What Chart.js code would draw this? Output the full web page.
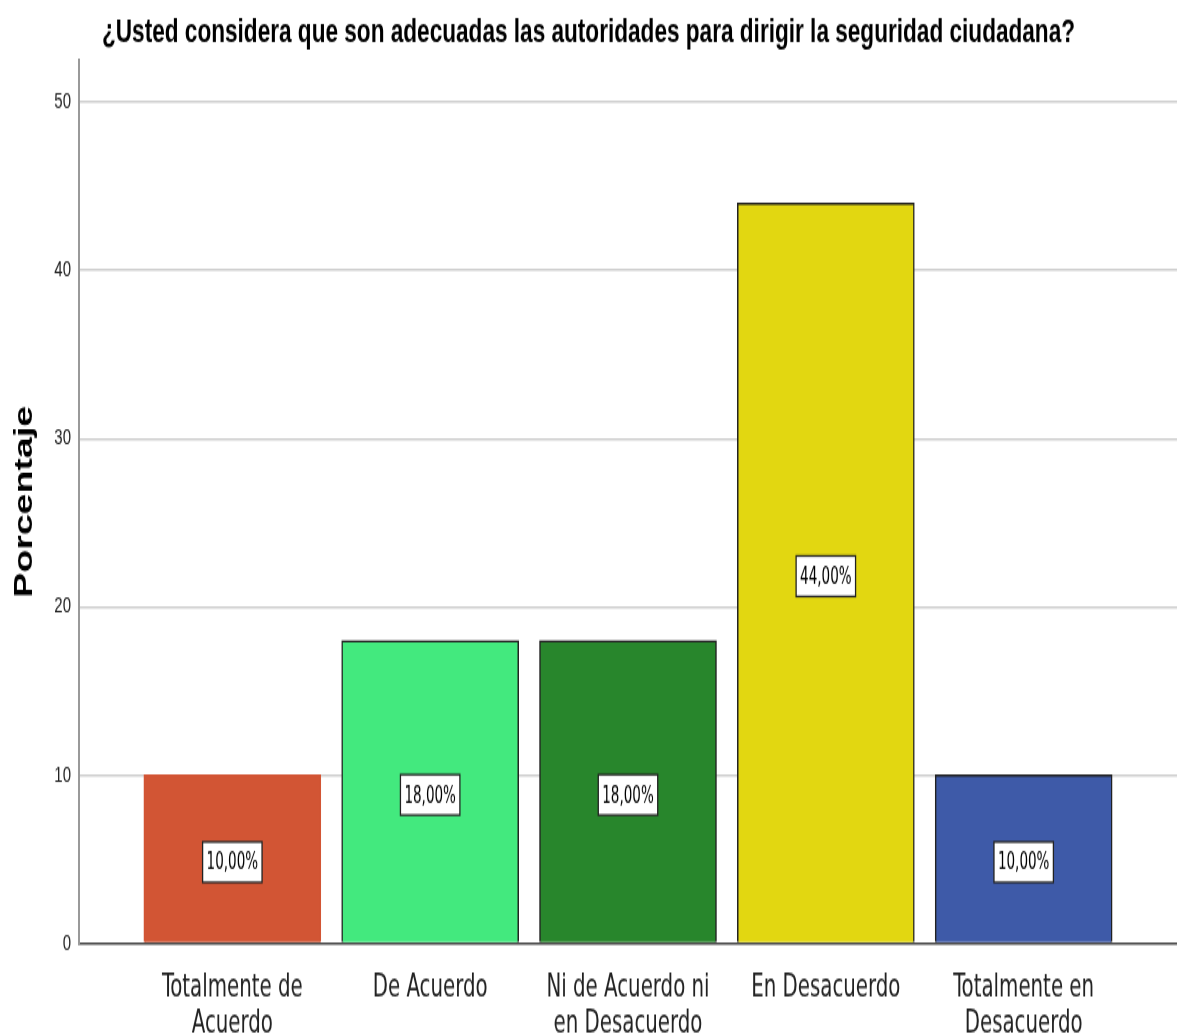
<!DOCTYPE html>
<html><head><meta charset="utf-8">
<script src="https://cdn.jsdelivr.net/npm/chart.js@4.4.1/dist/chart.umd.min.js"></script>
<style>
html{margin:0;padding:0;background:#fff;overflow:hidden}
body{margin:0;padding:0;background:#fff;width:1177px;height:1034px}
#wrap{width:1177px;height:689px;transform:scaleY(1.50073);transform-origin:0 0}
</style></head><body>
<div id="wrap"><canvas id="c" width="1177" height="689"></canvas></div>
<script>
const titleText = "¿Usted considera que son adecuadas las autoridades para dirigir la seguridad ciudadana?";
const yAxisTitle = "Porcentaje";
const categories = [["Totalmente de", "Acuerdo"], ["De Acuerdo"], ["Ni de Acuerdo ni", "en Desacuerdo"], ["En Desacuerdo"], ["Totalmente en", "Desacuerdo"]];
const percentages = [10, 18, 18, 44, 10];
const yTickValues = [0, 10, 20, 30, 40, 50];
const barColors = ["#D25534", "#43E97E", "#28862C", "#E2D711", "#3E5AA8"];
const barBorderColors = ["#D25534", "#222222", "#222222", "#222222", "#222222"];

const NARROW = "'DejaVu Sans Condensed', 'Liberation Sans', sans-serif";
const REG = "'Liberation Sans', Arial, sans-serif";

const valueLabelPlugin = {
  id: 'valueLabels',
  afterDatasetsDraw(chart) {
    const ctx = chart.ctx;
    const meta = chart.getDatasetMeta(0);
    const ys = chart.scales.y;
    ctx.save();
    ctx.font = "15px " + NARROW;
    meta.data.forEach((el, i) => {
      const v = percentages[i];
      const txt = v.toFixed(2).replace('.', ',') + '%';
      const cx = el.x, cy = ys.getPixelForValue(v / 2) + 2;
      const w = ctx.measureText(txt).width + 8, h = 27;
      ctx.fillStyle = '#fff';
      ctx.fillRect(cx - w / 2, cy - h / 2, w, h);
      ctx.strokeStyle = '#222';
      ctx.lineWidth = 1.3;
      ctx.strokeRect(cx - w / 2, cy - h / 2, w, h);
      ctx.fillStyle = '#000';
      ctx.textAlign = 'center';
      ctx.textBaseline = 'middle';
      ctx.fillText(txt, cx, cy + 1);
    });
    ctx.restore();
  }
};

new Chart(document.getElementById('c'), {
  type: 'bar',
  data: {
    datasets: [{
      data: percentages.map((v, i) => ({ x: i, y: v })),
      backgroundColor: barColors,
      borderColor: barBorderColors,
      borderWidth: 1.5,
      barThickness: 177
    }]
  },
  options: {
    responsive: false,
    animation: false,
    devicePixelRatio: 1,
    layout: { padding: 0 },
    plugins: {
      legend: { display: false },
      tooltip: { enabled: false },
      title: {
        display: true,
        text: titleText,
        color: '#000',
        font: { family: REG, size: 22.6, weight: 'bold', lineHeight: 1.2 },
        padding: { top: 8, bottom: 5 }
      }
    },
    scales: {
      x: {
        type: 'linear',
        offset: false,
        min: -0.775,
        max: 4.775,
        afterBuildTicks: s => { s.ticks = categories.map((_, i) => ({ value: i })); },
        afterFit: s => { s.height = 60.5; },
        ticks: {
          autoSkip: false,
          maxRotation: 0,
          minRotation: 0,
          padding: 10,
          color: '#222',
          font: { family: NARROW, size: 22, lineHeight: 1.09 },
          callback: v => categories[v]
        },
        grid: { display: false, offset: false },
        border: { display: true, color: '#444', width: 1.4 }
      },
      y: {
        min: 0,
        max: 52.5,
        afterBuildTicks: s => { s.ticks = yTickValues.map(v => ({ value: v })); },
        afterFit: s => { s.width = 79; },
        ticks: {
          color: '#222',
          padding: 8,
          font: { family: REG, size: 15 }
        },
        grid: {
          color: c => (c.tick && c.tick.value === 0) ? 'rgba(0,0,0,0)' : '#cfcfcf',
          lineWidth: 1.5,
          drawTicks: false
        },
        border: { display: true, color: '#999', width: 2 },
        title: {
          display: true,
          text: yAxisTitle,
          color: '#000',
          font: { family: REG, size: 25, weight: 'bold', lineHeight: 1.2 },
          padding: { top: 10, bottom: 0 }
        }
      }
    }
  },
  plugins: [valueLabelPlugin]
});
</script>
</body></html>
